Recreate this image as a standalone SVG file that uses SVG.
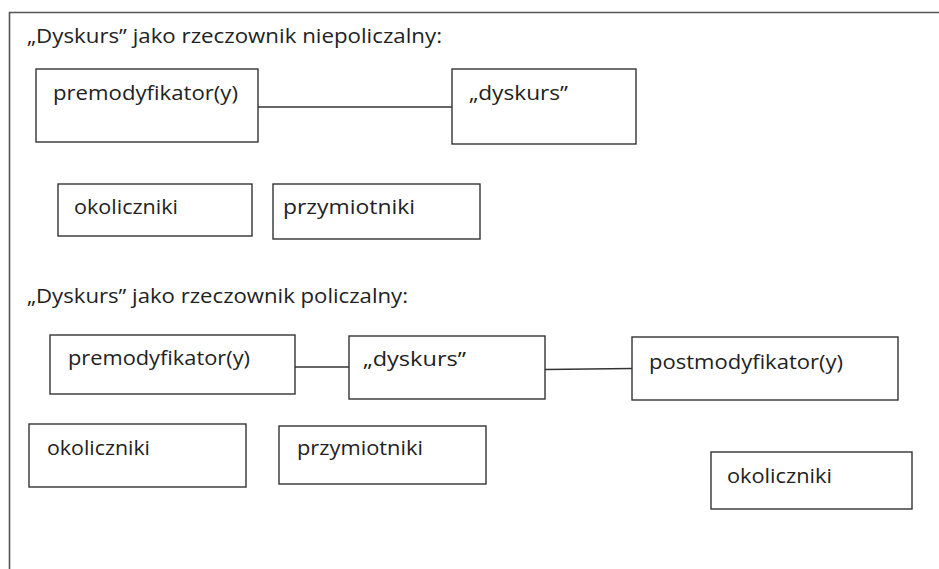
<svg xmlns="http://www.w3.org/2000/svg" width="939" height="569" viewBox="0 0 939 569">
<style>
.box{fill:#fff;stroke:#333;stroke-width:1.4}
.t{font-family:"Open Sans","Noto Sans","Liberation Sans",sans-serif;font-size:20px;fill:#222}
.c{stroke:#333;stroke-width:1.3;fill:none}
</style>
<rect x="0" y="0" width="939" height="569" fill="#fff"/>
<path d="M9.5 569 V12.5 H939" fill="none" stroke="#555" stroke-width="1.6"/>
<text class="t" x="27" y="43" textLength="415" lengthAdjust="spacingAndGlyphs">„Dyskurs” jako rzeczownik niepoliczalny:</text>
<text class="t" x="27" y="303" textLength="381" lengthAdjust="spacingAndGlyphs">„Dyskurs” jako rzeczownik policzalny:</text>
<g id="connectors">
<line class="c" x1="258" y1="107" x2="452" y2="107"/>
<line class="c" x1="295" y1="367" x2="349" y2="367"/>
<line class="c" x1="545" y1="369.5" x2="632" y2="368.5"/>
</g>
<g id="n1"><rect class="box" x="36" y="69" width="222" height="73"/><text class="t" x="53" y="100" textLength="185" lengthAdjust="spacingAndGlyphs">premodyfikator(y)</text></g>
<g id="n2"><rect class="box" x="452" y="69" width="184" height="75"/><text class="t" x="469" y="100" textLength="99" lengthAdjust="spacingAndGlyphs">„dyskurs”</text></g>
<g id="n3"><rect class="box" x="58" y="184" width="194" height="52"/><text class="t" x="74" y="214" textLength="104" lengthAdjust="spacingAndGlyphs">okoliczniki</text></g>
<g id="n4"><rect class="box" x="273" y="184" width="207" height="55"/><text class="t" x="283" y="214" textLength="132" lengthAdjust="spacingAndGlyphs">przymiotniki</text></g>
<g id="n5"><rect class="box" x="50" y="335" width="245" height="59"/><text class="t" x="68" y="365" textLength="182" lengthAdjust="spacingAndGlyphs">premodyfikator(y)</text></g>
<g id="n6"><rect class="box" x="349" y="336" width="196" height="63"/><text class="t" x="363" y="366" textLength="103" lengthAdjust="spacingAndGlyphs">„dyskurs”</text></g>
<g id="n7"><rect class="box" x="632" y="337" width="266" height="63"/><text class="t" x="649" y="369" textLength="194" lengthAdjust="spacingAndGlyphs">postmodyfikator(y)</text></g>
<g id="n8"><rect class="box" x="29" y="424" width="217" height="63"/><text class="t" x="47" y="455" textLength="103" lengthAdjust="spacingAndGlyphs">okoliczniki</text></g>
<g id="n9"><rect class="box" x="279" y="426" width="207" height="58"/><text class="t" x="297" y="455" textLength="126" lengthAdjust="spacingAndGlyphs">przymiotniki</text></g>
<g id="n10"><rect class="box" x="711" y="452" width="201" height="57"/><text class="t" x="727" y="483" textLength="105" lengthAdjust="spacingAndGlyphs">okoliczniki</text></g>
</svg>
